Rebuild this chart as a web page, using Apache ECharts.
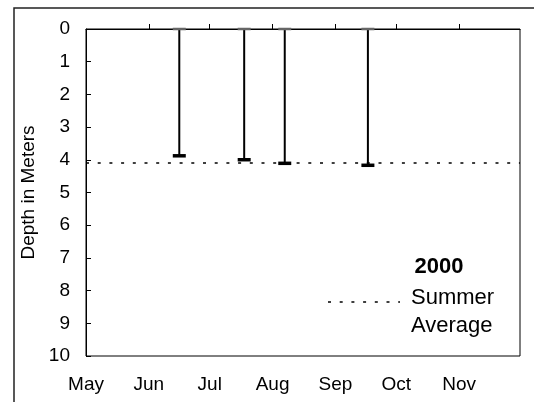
<!DOCTYPE html>
<html>
<head>
<meta charset="utf-8">
<script src="https://cdn.jsdelivr.net/npm/echarts@6/dist/echarts.min.js"></script>
<style>
html,body{margin:0;padding:0;background:#fff;}
#chart{width:534px;height:402px;}
</style>
</head>
<body>
<div id="chart"></div>
<script>
// ---- data ----
const sampleDates = ['2000-06-16', '2000-07-18', '2000-08-07', '2000-09-17'];
const topDepth = [0, 0, 0, 0];
const bottomDepth = [3.87, 3.99, 4.10, 4.16];
const summerAverage = 4.08;
const monthStarts = ['2000-05-01','2000-06-01','2000-07-01','2000-08-01','2000-09-01','2000-10-01','2000-11-01','2000-12-01'];
const monthLabels = ['May','Jun','Jul','Aug','Sep','Oct','Nov'];
const depthTicks = [0,1,2,3,4,5,6,7,8,9,10];
const yearLabel = '2000';
const legendLines = ['Summer', 'Average'];

// ---- helpers ----
function dayOffset(s){
  const p = s.split('-').map(Number);
  return (Date.UTC(p[0], p[1]-1, p[2]) - Date.UTC(2000, 4, 1)) / 86400000;
}
const monthOffsets = monthStarts.map(dayOffset);
const labelOffsets = monthOffsets.slice(0, monthLabels.length);
const seriesData = sampleDates.map((d, i) => [dayOffset(d), topDepth[i], bottomDepth[i]]);

const FONT = '"Liberation Sans", Arial, sans-serif';
const chart = echarts.init(document.getElementById('chart'), null, {renderer: 'canvas'});

chart.setOption({
  animation: false,
  backgroundColor: '#fff',
  textStyle: {fontFamily: FONT},
  grid: {left: 86, top: 29, right: 14, bottom: 46, show: true, borderColor: '#000', borderWidth: 1, backgroundColor: 'transparent'},
  xAxis: {
    type: 'value',
    min: monthOffsets[0],
    max: monthOffsets[monthOffsets.length - 1],
    axisLine: {show: true, lineStyle: {color: '#000', width: 1}},
    axisTick: {show: true, inside: true, length: 5, customValues: monthOffsets.slice(1, -1), lineStyle: {color: '#000'}},
    axisLabel: {
      customValues: labelOffsets,
      formatter: function(v){ const i = labelOffsets.indexOf(v); return i >= 0 ? monthLabels[i] : ''; },
      color: '#000', fontSize: 19, fontFamily: FONT, margin: 19
    },
    splitLine: {show: false}
  },
  yAxis: {
    type: 'value',
    inverse: true,
    min: depthTicks[0],
    max: depthTicks[depthTicks.length - 1],
    interval: 1,
    name: 'Depth in Meters',
    nameLocation: 'middle',
    nameGap: 46,
    nameRotate: 90,
    nameTextStyle: {color: '#000', fontSize: 19, fontFamily: FONT},
    axisLine: {show: true, lineStyle: {color: '#000', width: 1}},
    axisTick: {show: true, inside: true, length: 5, lineStyle: {color: '#000'}},
    axisLabel: {color: '#000', fontSize: 19, fontFamily: FONT, margin: 16},
    splitLine: {show: false}
  },
  series: [
    {
      type: 'custom',
      clip: false,
      data: seriesData,
      encode: {x: 0, y: [1, 2]},
      renderItem: function(params, api){
        const x = api.value(0);
        const p0 = api.coord([x, api.value(1)]);
        const p1 = api.coord([x, api.value(2)]);
        return {
          type: 'group',
          children: [
            {type: 'line', shape: {x1: p0[0], y1: p0[1], x2: p1[0], y2: p1[1]}, style: {stroke: '#000', lineWidth: 2}},
            {type: 'line', shape: {x1: p0[0]-6.5, y1: p0[1], x2: p0[0]+6.5, y2: p0[1]}, style: {stroke: '#666', lineWidth: 2.5}},
            {type: 'rect', shape: {x: p1[0]-6.5, y: p1[1]-1.5, width: 13, height: 3.5}, style: {fill: '#000'}}
          ]
        };
      },
      z: 3
    },
    {
      type: 'line',
      data: [],
      markLine: {
        silent: true,
        symbol: ['none', 'none'],
        label: {show: false},
        lineStyle: {color: '#000', type: [3, 8.7], width: 1.6},
        data: [{yAxis: summerAverage}]
      }
    }
  ],
  graphic: [
    {type: 'rect', shape: {x: 14, y: 8, width: 540, height: 420}, style: {fill: 'none', stroke: '#222', lineWidth: 1.5}, silent: true},
    {type: 'text', x: 439, y: 267, style: {text: yearLabel, font: 'bold 22px "Liberation Sans", Arial, sans-serif', fill: '#000', textAlign: 'center', textVerticalAlign: 'middle'}},
    {type: 'line', shape: {x1: 328, y1: 302, x2: 400, y2: 302}, style: {stroke: '#000', lineWidth: 1.6, lineDash: [3, 8.7]}},
    {type: 'text', x: 411, y: 298, style: {text: legendLines[0], font: '22px "Liberation Sans", Arial, sans-serif', fill: '#000', textAlign: 'left', textVerticalAlign: 'middle'}},
    {type: 'text', x: 411, y: 326, style: {text: legendLines[1], font: '22px "Liberation Sans", Arial, sans-serif', fill: '#000', textAlign: 'left', textVerticalAlign: 'middle'}}
  ]
});
</script>
</body>
</html>
